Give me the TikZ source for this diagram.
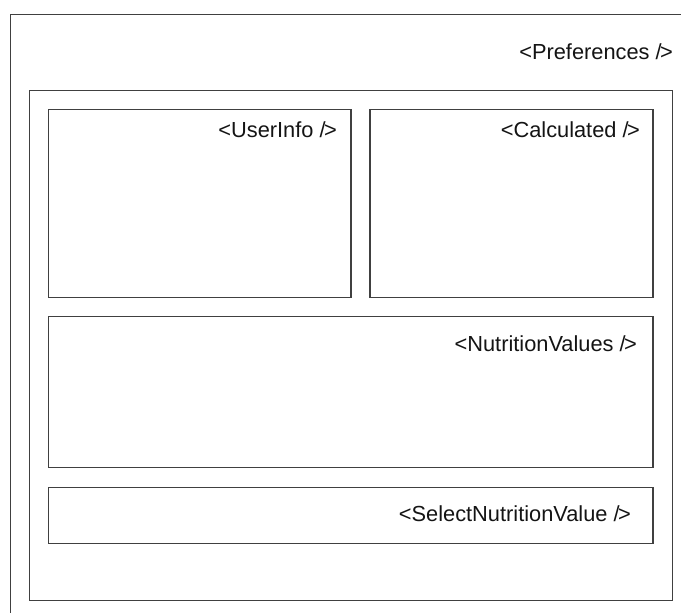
\documentclass[tikz,border=0pt]{standalone}
\usepackage{fontspec}
\setmainfont{Liberation Sans}
% closing mark of a self-closing tag, set tight
\newcommand{\tagend}{/\kern-1.6pt>}
\begin{document}
\begin{tikzpicture}[x=1pt,y=-1pt,
  frame/.style={draw=black!75,line width=1.8pt},
  tag/.style={anchor=base east,inner sep=0pt,font=\fontsize{21.8}{26}\selectfont,text=black!92}]
\useasboundingbox (0,0) rectangle (681,613);
% outer Preferences frame, running off the right and bottom edges
\draw[frame] (10.5,620) -- (10.5,14.5) -- (690,14.5);
\node[tag] (prefs) at (673,59) {<Preferences \tagend};
% container body
\draw[frame] (29.5,90.5) rectangle (672.5,600.5);
% child components
\draw[frame] (48.5,109.5) rectangle (351,297.5);
\node[tag] (user) at (337,137) {<UserInfo \tagend};
\draw[frame] (370,109.5) rectangle (653,297.5);
\node[tag] (calc) at (640,137) {<Calculated \tagend};
\draw[frame] (48.5,316.5) rectangle (653,467.5);
\node[tag] (nutr) at (637,351.5) {<NutritionValues \tagend};
\draw[frame] (48.5,487.5) rectangle (653,543.5);
\node[tag] (sel) at (631,521.5) {<SelectNutritionValue \tagend};
\end{tikzpicture}
\end{document}
